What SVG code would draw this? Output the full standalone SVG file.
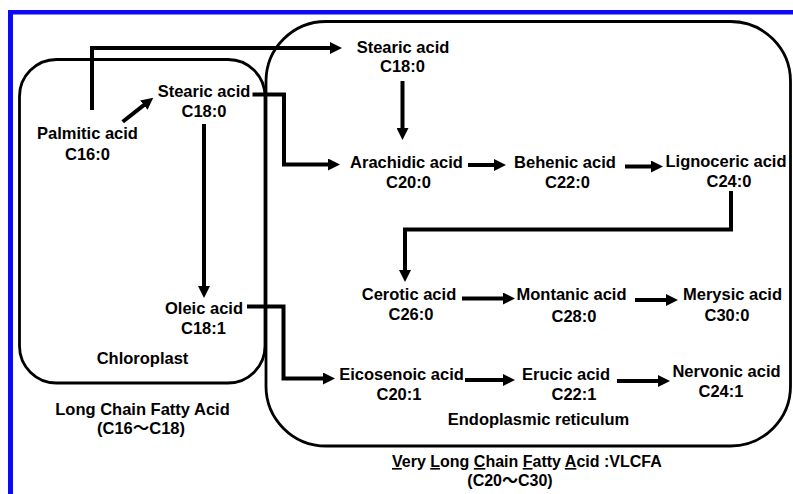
<svg xmlns="http://www.w3.org/2000/svg" width="793" height="494" viewBox="0 0 793 494">
  <style>
    .box { fill: none; stroke: #000; stroke-width: 2.8; }
    .conn { fill: none; stroke: #000; stroke-width: 4; stroke-linejoin: miter; }
    .lbl { font-family: "Liberation Sans", "Noto Sans CJK JP", sans-serif; font-weight: bold; font-size: 16.5px; fill: #000; text-anchor: middle; }
    .frame { fill: #0a0af5; }
  </style>
  <defs>
    <marker id="head" viewBox="0 0 12 12" markerUnits="userSpaceOnUse" markerWidth="12" markerHeight="12" refX="2" refY="6" orient="auto">
      <path d="M0,0 L12,6 L0,12 Z" fill="#000"/>
    </marker>
  </defs>

  <rect width="793" height="494" fill="#fff"/>

  <!-- blue frame (top and left edges) -->
  <rect class="frame" x="8" y="10" width="785" height="4.5"/>
  <rect class="frame" x="8" y="10" width="5" height="484"/>

  <!-- compartments -->
  <g id="chloroplast">
    <rect class="box" x="19.5" y="59.5" width="245.5" height="323.5" rx="37" ry="37"/>
    <text class="lbl" x="142.5" y="363.5">Chloroplast</text>
  </g>
  <g id="er">
    <rect class="box" x="266" y="21.5" width="524.5" height="424.5" rx="60" ry="60"/>
    <text class="lbl" x="538.5" y="425">Endoplasmic reticulum</text>
  </g>

  <!-- connectors -->
  <g id="connectors">
    <path class="conn" d="M92,110 V48 H332" marker-end="url(#head)"/>
    <path class="conn" d="M122.7,121.7 L145.4,103.9" marker-end="url(#head)"/>
    <path class="conn" d="M252.5,94.5 H284 V164.5 H330" marker-end="url(#head)"/>
    <path class="conn" d="M204,124 V288" marker-end="url(#head)"/>
    <path class="conn" d="M247,306.5 H283.5 V378.5 H325" marker-end="url(#head)"/>
    <path class="conn" d="M402.5,81 V130" marker-end="url(#head)"/>
    <path class="conn" d="M468,165 H496" marker-end="url(#head)"/>
    <path class="conn" d="M625,166.5 H653" marker-end="url(#head)"/>
    <path class="conn" d="M731,191 V229.5 H405 V272" marker-end="url(#head)"/>
    <path class="conn" d="M462,298.5 H505" marker-end="url(#head)"/>
    <path class="conn" d="M635,300 H668" marker-end="url(#head)"/>
    <path class="conn" d="M465,380 H505" marker-end="url(#head)"/>
    <path class="conn" d="M617,381 H660" marker-end="url(#head)"/>
  </g>

  <!-- fatty acids -->
  <g id="palmitic"><text class="lbl" x="87.5" y="139">Palmitic acid</text><text class="lbl" x="87.5" y="160">C16:0</text></g>
  <g id="stearic-cp"><text class="lbl" x="204" y="96.5">Stearic acid</text><text class="lbl" x="204" y="117">C18:0</text></g>
  <g id="oleic"><text class="lbl" x="204" y="313.5">Oleic acid</text><text class="lbl" x="203.5" y="333.5">C18:1</text></g>
  <g id="stearic-er"><text class="lbl" x="403" y="52.5">Stearic acid</text><text class="lbl" x="402.5" y="72">C18:0</text></g>
  <g id="arachidic"><text class="lbl" x="406.5" y="168">Arachidic acid</text><text class="lbl" x="408.5" y="188">C20:0</text></g>
  <g id="behenic"><text class="lbl" x="565" y="168">Behenic acid</text><text class="lbl" x="567.5" y="188">C22:0</text></g>
  <g id="lignoceric"><text class="lbl" x="726" y="166.5">Lignoceric acid</text><text class="lbl" x="729" y="186.5">C24:0</text></g>
  <g id="cerotic"><text class="lbl" x="409" y="299.5">Cerotic acid</text><text class="lbl" x="411" y="320">C26:0</text></g>
  <g id="montanic"><text class="lbl" x="571.5" y="300">Montanic acid</text><text class="lbl" x="574" y="321.5">C28:0</text></g>
  <g id="merysic"><text class="lbl" x="732.5" y="300">Merysic acid</text><text class="lbl" x="727" y="321">C30:0</text></g>
  <g id="eicosenoic"><text class="lbl" x="401.5" y="380">Eicosenoic acid</text><text class="lbl" x="399" y="400">C20:1</text></g>
  <g id="erucic"><text class="lbl" x="566" y="380">Erucic acid</text><text class="lbl" x="574" y="400">C22:1</text></g>
  <g id="nervonic"><text class="lbl" x="726.5" y="377">Nervonic acid</text><text class="lbl" x="721" y="397">C24:1</text></g>

  <!-- chain-length classes -->
  <g id="lcfa">
    <text class="lbl" x="142.5" y="415">Long Chain Fatty Acid</text>
    <text class="lbl" x="141" y="433.5">(C16～C18)</text>
  </g>
  <g id="vlcfa">
    <text class="lbl" x="392" y="467" style="text-anchor:start;font-size:16px"><tspan text-decoration="underline">V</tspan>ery <tspan text-decoration="underline">L</tspan>ong <tspan text-decoration="underline">C</tspan>hain <tspan text-decoration="underline">F</tspan>atty <tspan text-decoration="underline">A</tspan>cid :VLCFA</text>
    <text class="lbl" x="510" y="486" style="font-size:16px">(C20～C30)</text>
  </g>
</svg>
